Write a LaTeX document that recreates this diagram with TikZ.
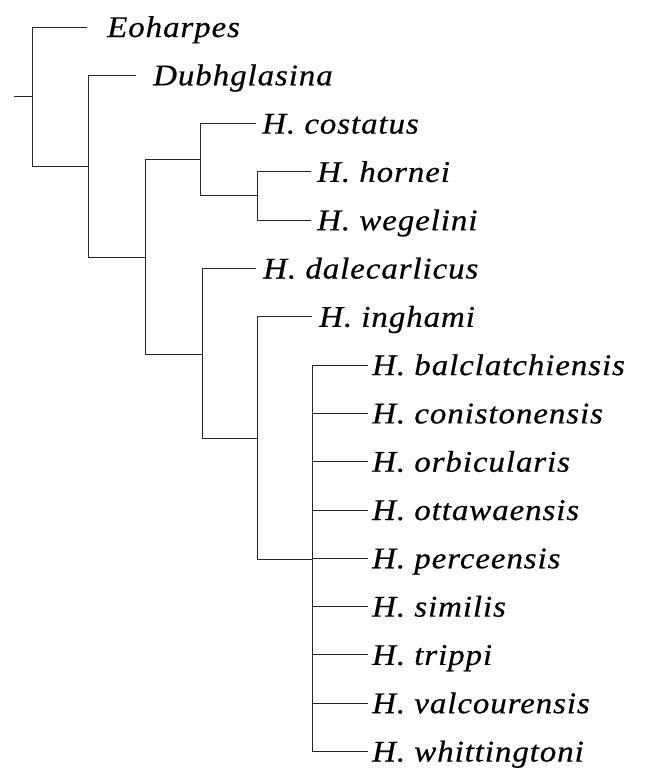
\documentclass[tikz,border=0pt]{standalone}
\usepackage{fontspec}
\newfontfamily\taxfont[FakeStretch=1.1, LetterSpace=3, FakeBold=0.5]{Liberation Serif}
\usepackage{tikz}
\usetikzlibrary{positioning}

\begin{document}
\begin{tikzpicture}[x=1pt, y=-1pt,
    branch/.style={draw=black!85, line width=0.9pt},
    taxon/.style={anchor=base west, inner sep=0pt, font=\fontsize{30}{34}\selectfont\taxfont\itshape},
]
\useasboundingbox (0,0) rectangle (646,771);

% internal nodes of the tree
\coordinate (stub) at (14,96.5);
\coordinate (nA)   at (32,96.5);
\coordinate (nB)   at (88,166);
\coordinate (nC)   at (145,257);
\coordinate (nD)   at (200,159.5);
\coordinate (nE)   at (257,195);
\coordinate (nF)   at (202,354);
\coordinate (nG)   at (257,438);
\coordinate (nH)   at (312,559);

% branch tips
\coordinate (eoh) at (87,27);
\coordinate (dub) at (136,75.3);
\coordinate (cos) at (256,123.6);
\coordinate (hor) at (311,171.9);
\coordinate (weg) at (311,220.2);
\coordinate (dal) at (256,268.5);
\coordinate (ing) at (312,316.8);
\coordinate (bal) at (368,365.1);
\coordinate (con) at (368,413.4);
\coordinate (orb) at (368,461.7);
\coordinate (ott) at (368,510);
\coordinate (per) at (368,558.3);
\coordinate (sim) at (368,606.6);
\coordinate (tri) at (368,654.9);
\coordinate (val) at (368,703.2);
\coordinate (whi) at (368,751.5);

% taxon names
\node[taxon] (eohL) at (107,37)    {Eoharpes};
\node[taxon] (dubL) at (153,85.3)  {Dubhglasina};
\node[taxon] (cosL) at (262,133.6) {H. costatus};
\node[taxon] (horL) at (317,181.9) {H. hornei};
\node[taxon] (wegL) at (317,230.2) {H. wegelini};
\node[taxon] (dalL) at (263,278.5) {H. dalecarlicus};
\node[taxon] (ingL) at (319,326.8) {H. inghami};
\node[taxon] (balL) at (372,375.1) {H. balclatchiensis};
\node[taxon] (conL) at (372,423.4) {H. conistonensis};
\node[taxon] (orbL) at (372,471.7) {H. orbicularis};
\node[taxon] (ottL) at (372,520)   {H. ottawaensis};
\node[taxon] (perL) at (372,568.3) {H. perceensis};
\node[taxon] (simL) at (372,616.6) {H. similis};
\node[taxon] (triL) at (372,664.9) {H. trippi};
\node[taxon] (valL) at (372,713.2) {H. valcourensis};
\node[taxon] (whiL) at (372,761.5) {H. whittingtoni};

% branches
\draw[branch] (stub) -- (nA);
\draw[branch] (nA) |- (eoh);
\draw[branch] (nA) |- (nB);
\draw[branch] (nB) |- (dub);
\draw[branch] (nB) |- (nC);
\draw[branch] (nC) |- (nD);
\draw[branch] (nC) |- (nF);
\draw[branch] (nD) |- (cos);
\draw[branch] (nD) |- (nE);
\draw[branch] (nE) |- (hor);
\draw[branch] (nE) |- (weg);
\draw[branch] (nF) |- (dal);
\draw[branch] (nF) |- (nG);
\draw[branch] (nG) |- (ing);
\draw[branch] (nG) |- (nH);
\draw[branch] (nH) |- (bal);
\draw[branch] (nH) |- (con);
\draw[branch] (nH) |- (orb);
\draw[branch] (nH) |- (ott);
\draw[branch] (nH) |- (per);
\draw[branch] (nH) |- (sim);
\draw[branch] (nH) |- (tri);
\draw[branch] (nH) |- (val);
\draw[branch] (nH) |- (whi);

\end{tikzpicture}
\end{document}
